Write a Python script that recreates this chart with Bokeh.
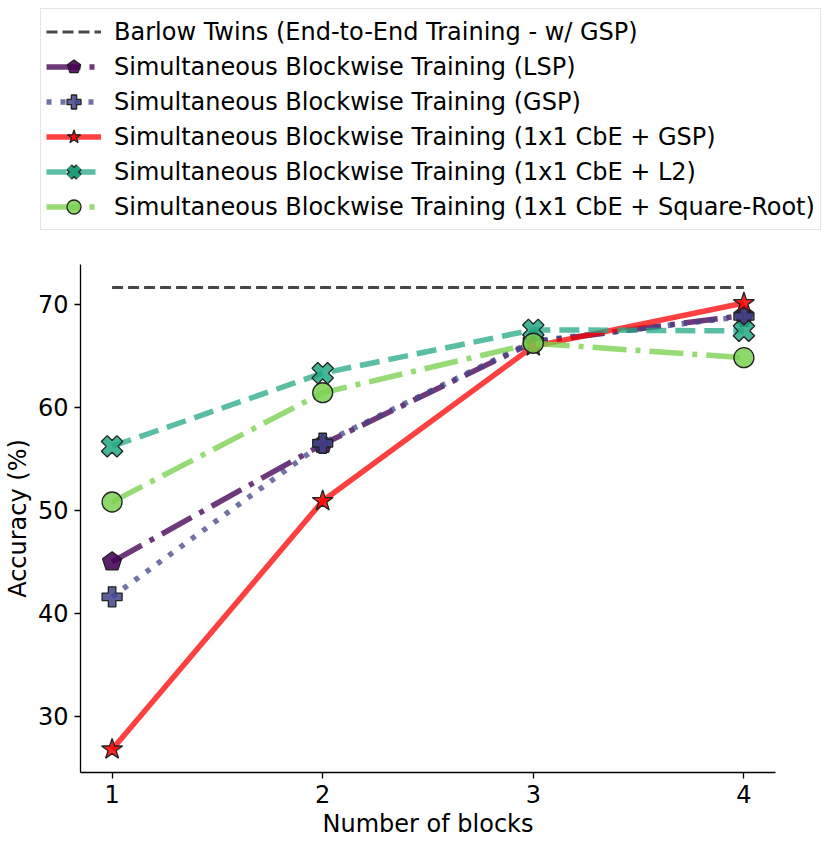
from bokeh.plotting import figure
from bokeh.layouts import column
from bokeh.models import Range1d, Legend, LegendItem, FixedTicker, ColumnDataSource
from bokeh.embed import file_html
from bokeh.resources import INLINE

blocks = [1, 2, 3, 4]
barlow = [71.6, 71.6, 71.6, 71.6]
lsp = [45.0, 56.4, 66.3, 68.9]
gsp = [41.6, 56.5, 66.4, 68.8]
cbe_gsp = [26.8, 50.9, 65.9, 70.1]
cbe_l2 = [56.2, 63.3, 67.5, 67.4]
cbe_sqrt = [50.8, 61.4, 66.2, 64.8]

labels = [
    "Barlow Twins (End-to-End Training - w/ GSP)",
    "Simultaneous Blockwise Training (LSP)",
    "Simultaneous Blockwise Training (GSP)",
    "Simultaneous Blockwise Training (1x1 CbE + GSP)",
    "Simultaneous Blockwise Training (1x1 CbE + L2)",
    "Simultaneous Blockwise Training (1x1 CbE + Square-Root)",
]

FONT = "DejaVu Sans"

# ---- legend figure (top); its ranges keep the series out of view ----
leg = figure(frame_width=828, frame_height=248, output_backend="svg",
             toolbar_location=None, x_range=Range1d(100, 101),
             y_range=Range1d(100, 101), min_border=0)
leg.axis.visible = False
leg.xgrid.visible = False
leg.ygrid.visible = False
leg.outline_line_color = None

# ---- main plot ----
p = figure(frame_width=695, frame_height=508, output_backend="svg",
           toolbar_location=None, x_range=Range1d(0.85, 4.15),
           y_range=Range1d(24.56, 73.84), min_border_left=20,
           min_border_top=16, min_border_right=36, min_border_bottom=0)
p.xgrid.visible = False
p.ygrid.visible = False
p.outline_line_color = None

for ax in (p.xaxis[0], p.yaxis[0]):
    ax.major_label_text_font = FONT
    ax.major_label_text_font_size = "24px"
    ax.major_label_text_color = "black"
    ax.axis_label_text_font = FONT
    ax.axis_label_text_font_size = "24px"
    ax.axis_label_text_font_style = "normal"
    ax.axis_label_text_color = "black"
    ax.axis_line_color = "black"
    ax.axis_line_width = 1.3
    ax.major_tick_line_color = "black"
    ax.major_tick_line_width = 1.3
    ax.major_tick_out = 6
    ax.major_tick_in = 0
    ax.minor_tick_line_color = None
p.xaxis.ticker = FixedTicker(ticks=blocks)
p.yaxis.ticker = FixedTicker(ticks=[30, 40, 50, 60, 70])
p.xaxis.axis_label = "Number of blocks"
p.yaxis.axis_label = "Accuracy (%)"
p.xaxis.major_label_standoff = 6
p.yaxis.major_label_standoff = 6
p.xaxis.axis_label_standoff = 4
p.yaxis.axis_label_standoff = 3

items = []


def draw(fig, xs, vals, color, dash, marker, msize, angle=0.0, lalpha=0.78,
         lwidth=5.5, in_legend=False):
    src = ColumnDataSource(dict(x=xs, y=vals))
    rl = fig.line("x", "y", source=src, line_color=color, line_alpha=lalpha,
                  line_width=lwidth, line_dash=dash)
    if marker is None:
        return [rl]
    if marker == "pentagon":
        rm = fig.ngon(x="x", y="y", radius=msize / 2, radius_units="screen",
                      n=5, angle=angle, source=src, fill_color=color,
                      fill_alpha=0.88, line_color="#222222", line_width=1.3)
        return [rl, rm]
    if marker == "X" and in_legend:
        # legend swatches ignore marker angle: build a filled-looking X
        r1 = fig.scatter("x", "y", source=src, marker="x", size=msize,
                         line_color="#222222", line_width=8)
        r2 = fig.scatter("x", "y", source=src, marker="x", size=msize,
                         line_color=color, line_alpha=0.9, line_width=5.4)
        return [rl, r1, r2]
    mk = "plus" if marker == "X" else marker
    rm = fig.scatter("x", "y", source=src, marker=mk, size=msize,
                     angle=angle, fill_color=color, fill_alpha=0.85,
                     line_color="#222222", line_width=1.3)
    return [rl, rm]


specs = [
    (barlow, "black", "11 5", None, 0, 0.0, 0.72, 3),
    (lsp, "#440154", "34 9 5 9", "pentagon", 20, 0.0, 0.78, 5.5),
    (gsp, "#414487", "5 9", "plus", 20, 0.0, 0.75, 5.5),
    (cbe_gsp, "#ff0000", "solid", "star", 22, 0.0, 0.75, 5.5),
    (cbe_l2, "#22a884", "20 9", "X", 22, 0.7854, 0.75, 5.5),
    (cbe_sqrt, "#7ad151", "34 9 5 9", "circle", 20, 0.0, 0.78, 5.5),
]

for lab, (vals, color, dash, marker, msize, ang, la, lw) in zip(labels, specs):
    draw(p, blocks, vals, color, dash, marker, msize, ang, la, lw)
    rs = draw(leg, blocks, vals, color, dash, marker, msize, ang, la, lw,
              in_legend=True)
    items.append(LegendItem(label=lab, renderers=rs))

legend = Legend(items=items, location=(40, 18), label_text_font=FONT,
                label_text_font_size="24px", label_text_color="black",
                glyph_width=55, glyph_height=35,
                label_height=30, spacing=0, padding=5, label_standoff=13,
                border_line_color="#cccccc", border_line_width=1.3,
                background_fill_alpha=1.0, margin=0)
leg.add_layout(legend, "center")

layout = column(leg, p, spacing=0)
open("out.html", "w").write(file_html(layout, INLINE))
